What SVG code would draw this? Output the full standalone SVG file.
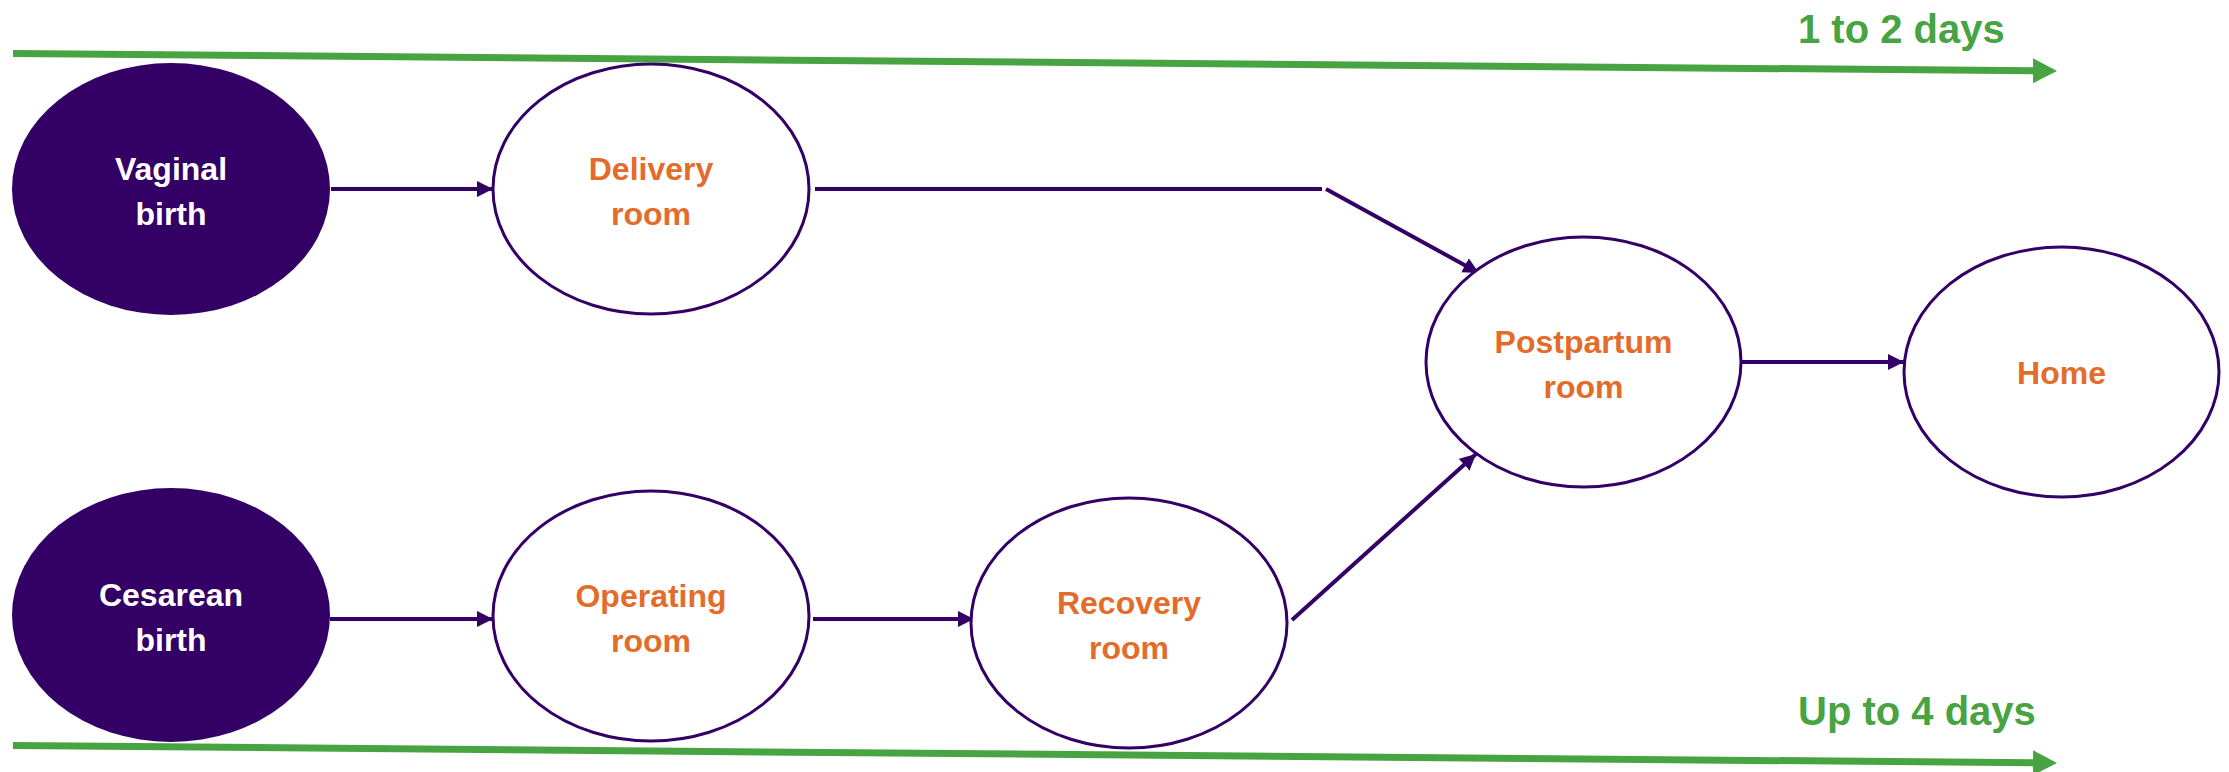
<svg xmlns="http://www.w3.org/2000/svg" width="2229" height="772" viewBox="0 0 2229 772">
<style>
.src{fill:#330066;stroke:none}
.room{fill:#ffffff;stroke:#330066;stroke-width:3}
.t{font-family:"Liberation Sans",Arial,sans-serif;font-weight:bold;font-size:32px;text-anchor:middle}
.w{fill:#ffffff}
.o{fill:#E46C2A}
.g{font-family:"Liberation Sans",Arial,sans-serif;font-weight:bold;font-size:40px;fill:#48A342}
.conn{fill:none;stroke:#330066;stroke-width:4}
.time{fill:none;stroke:#48A342;stroke-width:7}
</style>
<defs>
<marker id="pa" markerUnits="userSpaceOnUse" markerWidth="16" markerHeight="16" viewBox="0 0 16 16" refX="16" refY="8" orient="auto">
<path d="M0,0 L16,8 L0,16 Z" fill="#330066"/>
</marker>
<marker id="ga" markerUnits="userSpaceOnUse" markerWidth="24" markerHeight="25" viewBox="0 0 24 25" refX="1" refY="12.5" orient="auto">
<path d="M0,0 L24,12.5 L0,25 Z" fill="#48A342"/>
</marker>
</defs>
<g id="timelines">
<line class="time" x1="13" y1="53.5" x2="2034" y2="70.8" marker-end="url(#ga)"/>
<line class="time" x1="13" y1="745.5" x2="2034" y2="762.8" marker-end="url(#ga)"/>
<text class="g" x="1798" y="43">1 to 2 days</text>
<text class="g" x="1798" y="725">Up to 4 days</text>
</g>
<g id="connectors">
<line class="conn" x1="331" y1="189" x2="493" y2="189" marker-end="url(#pa)"/>
<path class="conn" d="M815,189 H1322 M1326,189 L1479,273" marker-end="url(#pa)"/>
<line class="conn" x1="1741" y1="362" x2="1904" y2="362" marker-end="url(#pa)"/>
<line class="conn" x1="330" y1="619" x2="493" y2="619" marker-end="url(#pa)"/>
<line class="conn" x1="813" y1="619" x2="974" y2="619" marker-end="url(#pa)"/>
<line class="conn" x1="1292" y1="620" x2="1476" y2="454" marker-end="url(#pa)"/>
</g>
<g id="vaginal-birth">
<ellipse class="src" cx="171" cy="189" rx="159" ry="126"/>
<text class="t w" x="171" y="180">Vaginal</text>
<text class="t w" x="171" y="225">birth</text>
</g>
<g id="delivery-room">
<ellipse class="room" cx="651" cy="189" rx="158" ry="125"/>
<text class="t o" x="651" y="180">Delivery</text>
<text class="t o" x="651" y="225">room</text>
</g>
<g id="cesarean-birth">
<ellipse class="src" cx="171" cy="615" rx="159" ry="127"/>
<text class="t w" x="171" y="606">Cesarean</text>
<text class="t w" x="171" y="651">birth</text>
</g>
<g id="operating-room">
<ellipse class="room" cx="651" cy="616" rx="158" ry="125"/>
<text class="t o" x="651" y="607">Operating</text>
<text class="t o" x="651" y="652">room</text>
</g>
<g id="recovery-room">
<ellipse class="room" cx="1129" cy="623" rx="158" ry="125"/>
<text class="t o" x="1129" y="614">Recovery</text>
<text class="t o" x="1129" y="659">room</text>
</g>
<g id="postpartum-room">
<ellipse class="room" cx="1583.5" cy="362" rx="157.5" ry="125"/>
<text class="t o" x="1583.5" y="353">Postpartum</text>
<text class="t o" x="1583.5" y="398">room</text>
</g>
<g id="home">
<ellipse class="room" cx="2061.5" cy="372" rx="157.5" ry="125"/>
<text class="t o" x="2061.5" y="384">Home</text>
</g>
</svg>
